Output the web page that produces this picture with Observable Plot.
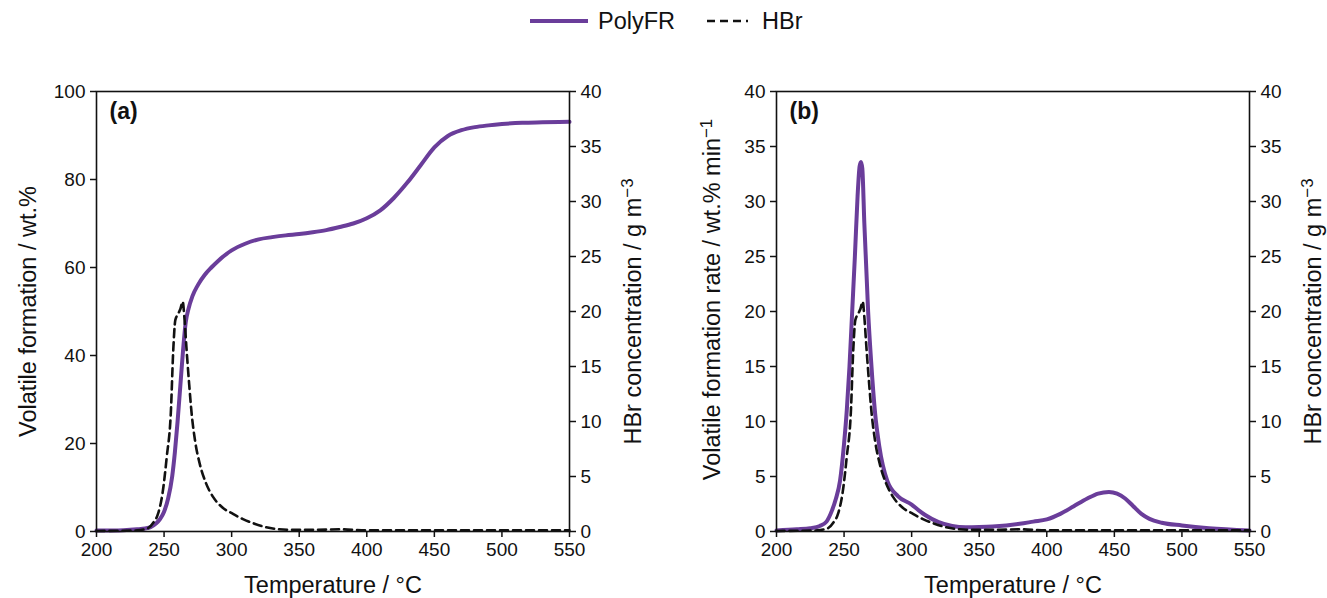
<!DOCTYPE html>
<html>
<head>
<meta charset="utf-8">
<script src="https://cdn.jsdelivr.net/npm/d3@7"></script>
<script src="https://cdn.jsdelivr.net/npm/@observablehq/plot@0.6"></script>
<style>
  html, body { margin: 0; padding: 0; background: #fff; }
  body { width: 1327px; height: 598px; position: relative; overflow: hidden;
         font-family: "Liberation Sans", Arial, Helvetica, sans-serif; color: #111; }
  #legend { position: absolute; top: 6px; left: 0; width: 1327px; height: 32px; }
  .panel { position: absolute; top: 60px; }
  #pa { left: 0; }
  #pb { left: 663px; }
</style>
</head>
<body>
<div id="legend"></div>
<div id="pa" class="panel"></div>
<div id="pb" class="panel"></div>
<script>
// ---- data ----
const xTicks = [200, 250, 300, 350, 400, 450, 500, 550];
const leftTicksA = [0, 20, 40, 60, 80, 100];
const leftTicksB = [0, 5, 10, 15, 20, 25, 30, 35, 40];
const hbrTicks = [0, 5, 10, 15, 20, 25, 30, 35, 40];

// (a) cumulative volatile formation, wt.%
const polyA_T = [200, 220, 230, 236, 240, 244, 247, 250, 253, 256, 258, 260, 262, 264, 266, 268, 271, 275, 280, 285, 290, 300, 310, 320, 330, 340, 350, 360, 370, 380, 390, 400, 410, 420, 430, 440, 450, 460, 470, 480, 490, 500, 515, 530, 550];
const polyA_V = [0.2, 0.3, 0.5, 0.7, 1.0, 1.8, 2.8, 4.5, 7.5, 12.5, 18, 25, 33, 41, 47.5, 50.5, 53.5, 56, 58.3, 60, 61.5, 63.9, 65.4, 66.4, 66.9, 67.3, 67.6, 68.0, 68.5, 69.2, 70.0, 71.2, 73.0, 75.8, 79.3, 83.3, 87.3, 89.9, 91.2, 91.9, 92.3, 92.6, 92.9, 93.0, 93.1];

// (b) volatile formation rate, wt.% min^-1
const polyB_T = [200, 215, 225, 232, 237, 241, 244, 247, 250, 252, 254, 256, 258, 260, 261.5, 262.5, 263.5, 265, 267.8, 270, 273, 276, 282, 290, 300, 305, 310, 320, 330, 340, 350, 360, 370, 380, 390, 400, 410, 420, 430, 438, 446, 452, 458, 464, 470, 476, 485, 500, 520, 550];
const polyB_V = [0.1, 0.2, 0.3, 0.5, 0.9, 1.9, 3.0, 4.6, 8.0, 11, 15, 20, 25, 30.5, 33.2, 33.6, 33.0, 28, 20, 15.5, 10.7, 7.8, 4.6, 3.2, 2.45, 1.95, 1.5, 0.85, 0.5, 0.38, 0.4, 0.45, 0.55, 0.7, 0.9, 1.1, 1.6, 2.3, 3.0, 3.45, 3.6, 3.45, 3.0, 2.3, 1.6, 1.15, 0.8, 0.55, 0.3, 0.1];

// HBr concentration, g m^-3
const hbr_T = [200, 230, 238, 242, 245.5, 249, 252, 255, 256.8, 258.3, 260, 262, 263.8, 265, 266.5, 268.5, 270.5, 273, 276.5, 281, 286.5, 293, 301, 308, 316, 325, 335, 345, 360, 380, 400, 420, 450, 480, 510, 550];
const hbr_V = [0.05, 0.1, 0.3, 0.8, 1.6, 3.6, 6.8, 10.8, 16.5, 19.2, 19.7, 20.2, 20.9, 19.5, 16.8, 13.5, 10.6, 8.2, 6.1, 4.4, 3.1, 2.2, 1.6, 1.15, 0.75, 0.4, 0.2, 0.15, 0.15, 0.2, 0.1, 0.1, 0.1, 0.1, 0.1, 0.1];

const seriesNames = ["PolyFR", "HBr"];
const purple = "#6a3d9a";
const ink = "#111111";
const FONT = '"Liberation Sans", Arial, Helvetica, sans-serif';

const polyA = polyA_T.map((t, i) => ({t, v: polyA_V[i]}));
const polyB = polyB_T.map((t, i) => ({t, v: polyB_V[i]}));
const hbr = hbr_T.map((t, i) => ({t, v: hbr_V[i]}));

function panel({width, marginLeft, marginRight, yDomain, leftTicks, leftLabel, hbrScale, tag, leftOff, leftShift, rightOff, poly}) {
  return Plot.plot({
    width, height: 538,
    marginLeft, marginRight, marginTop: 31, marginBottom: 67,
    x: {domain: [200, 550]},
    y: {domain: yDomain},
    style: {fontFamily: FONT, fontSize: "19px", color: ink, background: "white"},
    marks: [
      Plot.lineY(poly, {x: "t", y: "v", stroke: purple, strokeWidth: 4, curve: "monotone-x"}),
      Plot.lineY(hbr, {x: "t", y: d => d.v * hbrScale, stroke: ink, strokeWidth: 2.6, strokeDasharray: "8,5", curve: "monotone-x"}),
      Plot.frame({stroke: ink, strokeWidth: 1.6}),
      Plot.axisX({ticks: xTicks, tickSize: 6, tickPadding: 5, strokeWidth: 1.5, fontSize: 19, label: null, tickFormat: d => String(d)}),
      Plot.axisY({anchor: "left", ticks: leftTicks, tickSize: 6, tickPadding: 5, strokeWidth: 1.5, fontSize: 19, label: null, tickFormat: d => String(d)}),
      Plot.axisY({anchor: "right", ticks: hbrTicks.map(v => v * hbrScale), tickSize: 6, tickPadding: 5, strokeWidth: 1.5, fontSize: 19, label: null, tickFormat: d => String(Math.round(d / hbrScale))}),
      Plot.text(["Temperature / °C"], {frameAnchor: "bottom", dy: 54, fontSize: 23.5, lineAnchor: "middle", fill: ink}),
      Plot.text([leftLabel], {frameAnchor: "left", dx: -leftOff, dy: leftShift, rotate: -90, fontSize: 23.5, lineAnchor: "middle", textAnchor: "middle", fill: ink}),
      Plot.text(["HBr concentration / g m⁻³"], {frameAnchor: "right", dx: rightOff, rotate: -90, fontSize: 23.5, lineAnchor: "middle", textAnchor: "middle", fill: ink}),
      Plot.text([tag], {frameAnchor: "top-left", dx: 13, dy: 11, fontSize: 23, fontWeight: "bold", textAnchor: "start", lineAnchor: "top", fill: ink})
    ]
  });
}

document.getElementById("pa").append(panel({
  width: 663, marginLeft: 96, marginRight: 94, yDomain: [0, 100], leftTicks: leftTicksA,
  leftLabel: "Volatile formation / wt.%", hbrScale: 2.5, tag: "(a)", leftOff: 68, leftShift: 0, rightOff: 64, poly: polyA
}));
document.getElementById("pb").append(panel({
  width: 664, marginLeft: 113, marginRight: 78, yDomain: [0, 40], leftTicks: leftTicksB,
  leftLabel: "Volatile formation rate / wt.% min⁻¹", hbrScale: 1, tag: "(b)", leftOff: 64, leftShift: -12, rightOff: 64, poly: polyB
}));

// render unicode superscripts as raised tspans (matplotlib-style)
d3.selectAll(".panel text").each(function () {
  const s = this.textContent;
  const m = s.match(/^(.*?)([⁻¹²³]+)$/);
  if (!m) return;
  const map = {"⁻": "−", "¹": "1", "²": "2", "³": "3"};
  const sup = [...m[2]].map(c => map[c]).join("");
  const el = d3.select(this);
  el.text(m[1]);
  el.append("tspan").attr("dy", "-0.5em").attr("font-size", "0.72em").text(sup);
});

// ---- legend ----
const lg = d3.select("#legend").append("svg").attr("width", 1327).attr("height", 32)
  .style("font-family", FONT);
const items = [
  {name: seriesNames[0], x0: 530, x1: 588, tx: 598, stroke: purple, w: 4, dash: null},
  {name: seriesNames[1], x0: 707, x1: 748, tx: 762, stroke: ink, w: 2.6, dash: "8,5"}
];
for (const it of items) {
  lg.append("line").attr("x1", it.x0).attr("x2", it.x1).attr("y1", 15).attr("y2", 15)
    .attr("stroke", it.stroke).attr("stroke-width", it.w).attr("stroke-dasharray", it.dash);
  lg.append("text").attr("x", it.tx).attr("y", 15).attr("dy", "0.35em")
    .attr("font-size", 23.5).attr("fill", ink).text(it.name);
}
</script>
</body>
</html>
